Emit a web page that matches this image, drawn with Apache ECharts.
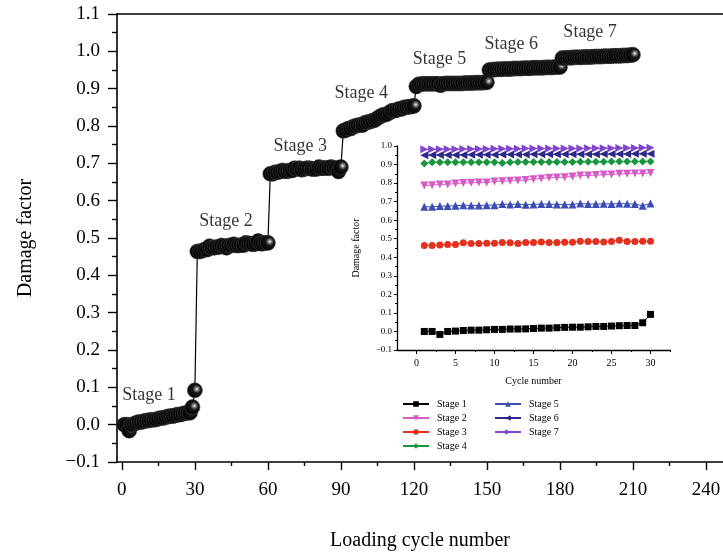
<!DOCTYPE html>
<html>
<head>
<meta charset="utf-8">
<script src="https://cdn.jsdelivr.net/npm/echarts@6/dist/echarts.min.js"></script>
<style>
  html, body { margin: 0; padding: 0; background: #fff; }
  #chart { width: 723px; height: 552px; }
</style>
</head>
<body>
<div id="chart"></div>
<script>
// Damage factor per cycle, 30 cycles in each loading stage
const cycles = Array.from({ length: 30 }, (_, i) => i + 1);

const stage1 = [0.000, 0.000, -0.016, 0.000, 0.002, 0.005, 0.007, 0.007, 0.009, 0.011,
                0.011, 0.013, 0.013, 0.014, 0.016, 0.018, 0.018, 0.020, 0.022, 0.023,
                0.023, 0.025, 0.027, 0.027, 0.029, 0.031, 0.032, 0.032, 0.047, 0.092];
const stage2 = [0.787, 0.789, 0.793, 0.793, 0.798, 0.800, 0.802, 0.803, 0.803, 0.809,
                0.810, 0.812, 0.814, 0.816, 0.821, 0.825, 0.829, 0.830, 0.832, 0.836,
                0.841, 0.841, 0.843, 0.846, 0.846, 0.850, 0.850, 0.852, 0.852, 0.854];
const stage3 = [0.464, 0.464, 0.466, 0.469, 0.469, 0.478, 0.474, 0.474, 0.476, 0.476,
                0.480, 0.478, 0.474, 0.480, 0.480, 0.483, 0.480, 0.480, 0.481, 0.481,
                0.487, 0.485, 0.485, 0.483, 0.485, 0.492, 0.485, 0.485, 0.487, 0.487];
const stage4 = [0.906, 0.912, 0.912, 0.913, 0.913, 0.913, 0.913, 0.913, 0.913, 0.913,
                0.909, 0.913, 0.914, 0.914, 0.914, 0.914, 0.914, 0.914, 0.914, 0.914,
                0.915, 0.915, 0.915, 0.915, 0.916, 0.916, 0.916, 0.916, 0.917, 0.917];
const stage5 = [0.672, 0.672, 0.676, 0.676, 0.678, 0.681, 0.679, 0.679, 0.681, 0.681,
                0.687, 0.685, 0.687, 0.683, 0.685, 0.687, 0.687, 0.685, 0.685, 0.685,
                0.690, 0.687, 0.687, 0.688, 0.687, 0.690, 0.688, 0.687, 0.678, 0.690];
const stage6 = [0.950, 0.951, 0.951, 0.952, 0.952, 0.952, 0.953, 0.953, 0.953, 0.953,
                0.954, 0.954, 0.954, 0.954, 0.955, 0.955, 0.955, 0.955, 0.956, 0.956,
                0.956, 0.956, 0.956, 0.957, 0.957, 0.957, 0.957, 0.958, 0.958, 0.958];
const stage7 = [0.982, 0.982, 0.983, 0.983, 0.983, 0.984, 0.984, 0.984, 0.984, 0.985,
                0.985, 0.985, 0.985, 0.986, 0.986, 0.986, 0.986, 0.987, 0.987, 0.987,
                0.987, 0.988, 0.988, 0.988, 0.988, 0.989, 0.989, 0.989, 0.990, 0.991];

const stageNames = ['Stage 1', 'Stage 2', 'Stage 3', 'Stage 4', 'Stage 5', 'Stage 6', 'Stage 7'];
const stageValues = [stage1, stage2, stage3, stage4, stage5, stage6, stage7];

// Order in which the stages follow each other along the loading history
const loadingOrder = [stage1, stage3, stage5, stage2, stage4, stage6, stage7];

// Tick labels
const mainXTicks = [0, 30, 60, 90, 120, 150, 180, 210, 240];
const mainXMinor = [15, 45, 75, 105, 135, 165, 195, 225];
const insetXTicks = [0, 5, 10, 15, 20, 25, 30];
const insetXMinor = [2.5, 7.5, 12.5, 17.5, 22.5, 27.5, 32.5];

// Where each stage caption sits on the main chart (data coordinates)
const captionAnchors = [[11.1, 0.078], [42.8, 0.544], [73.3, 0.745], [98.4, 0.887],
                        [130.5, 0.978], [160, 1.018], [192.4, 1.05]];

// Build the continuous loading history: stage k occupies cycles 30(k-1)+1 .. 30k
const history = [];
loadingOrder.forEach((vals, k) => {
  vals.forEach((v, i) => history.push([30 * k + cycles[i], v]));
});

const FONT = 'Liberation Serif';
const minusFmt = v => v.toFixed(1).replace('-', '\u2212');

const insetStyles = [
  { color: '#000000', symbol: 'rect', rotate: 0, size: 7 },
  { color: '#d65bc9', symbol: 'triangle', rotate: 180, size: 8 },
  { color: '#e2311f', symbol: 'circle', rotate: 0, size: 7 },
  { color: '#16973c', symbol: 'diamond', rotate: 0, size: 8 },
  { color: '#3d4db5', symbol: 'triangle', rotate: 0, size: 8 },
  { color: '#2c2888', symbol: 'triangle', rotate: 90, size: 8 },
  { color: '#7f45cc', symbol: 'triangle', rotate: -90, size: 8 }
];

const ball = {
  type: 'radial', x: 0.62, y: 0.42, r: 0.62,
  colorStops: [
    { offset: 0, color: '#ffffff' },
    { offset: 0.16, color: '#8a8a8a' },
    { offset: 0.42, color: '#161616' },
    { offset: 1, color: '#000000' }
  ]
};

const insetSeries = stageValues.map((vals, k) => ({
  name: stageNames[k],
  type: 'line',
  xAxisIndex: 3,
  yAxisIndex: 1,
  data: vals.map((v, i) => [cycles[i], v]),
  symbol: insetStyles[k].symbol,
  symbolRotate: insetStyles[k].rotate,
  symbolSize: insetStyles[k].size,
  showAllSymbol: true,
  itemStyle: { color: insetStyles[k].color },
  lineStyle: { color: insetStyles[k].color, width: 1 },
  z: 5,
  animation: false
}));

const chart = echarts.init(document.getElementById('chart'), null, { renderer: 'canvas' });

chart.setOption({
  animation: false,
  backgroundColor: '#fff',
  textStyle: { fontFamily: FONT },
  grid: [
    { left: 117, right: 0, top: 14, bottom: 90, containLabel: false, outerBoundsMode: 'none' },
    { left: 397, right: 53, top: 146, bottom: 202, containLabel: false, outerBoundsMode: 'none' }
  ],
  legend: [
    {
      data: stageNames.slice(0, 4),
      orient: 'vertical', left: 397, top: 394,
      itemWidth: 26, itemHeight: 7, itemGap: 4,
      textStyle: { fontFamily: FONT, fontSize: 10, color: '#000', padding: [0, 0, 0, 3] }
    },
    {
      data: stageNames.slice(4),
      orient: 'vertical', left: 489, top: 394,
      itemWidth: 26, itemHeight: 7, itemGap: 4,
      textStyle: { fontFamily: FONT, fontSize: 10, color: '#000', padding: [0, 0, 0, 3] }
    }
  ],
  xAxis: [
    {
      gridIndex: 0, type: 'value', min: -2, max: 247,
      name: 'Loading cycle number', nameLocation: 'middle', nameGap: 69,
      nameTextStyle: { fontFamily: FONT, fontSize: 20, color: '#000' },
      axisLine: { onZero: false, lineStyle: { color: '#000', width: 1.6 } },
      axisTick: { customValues: mainXTicks, length: 8, lineStyle: { width: 1.4, color: '#000' } },
      axisLabel: { customValues: mainXTicks, margin: 19, fontFamily: FONT, fontSize: 19, color: '#000' },
      splitLine: { show: false }
    },
    {
      gridIndex: 0, type: 'value', min: -2, max: 247, position: 'bottom',
      axisLine: { show: false, onZero: false },
      axisTick: { customValues: mainXMinor, length: 4, lineStyle: { width: 1.4, color: '#000' } },
      axisLabel: { show: false },
      splitLine: { show: false }
    },
    {
      gridIndex: 0, type: 'value', min: -2, max: 247, position: 'top',
      axisLine: { onZero: false, lineStyle: { color: '#000', width: 1.6 } },
      axisTick: { show: false },
      axisLabel: { show: false },
      splitLine: { show: false }
    },
    {
      gridIndex: 1, type: 'value', min: -2.5, max: 32.5,
      name: 'Cycle number', nameLocation: 'middle', nameGap: 26,
      nameTextStyle: { fontFamily: FONT, fontSize: 10, color: '#000' },
      axisLine: { onZero: false, lineStyle: { color: '#000', width: 1.3 } },
      axisTick: { customValues: insetXTicks, length: 4, lineStyle: { width: 1, color: '#000' } },
      axisLabel: { customValues: insetXTicks, margin: 8, fontFamily: FONT, fontSize: 10, color: '#000' },
      splitLine: { show: false }
    },
    {
      gridIndex: 1, type: 'value', min: -2.5, max: 32.5, position: 'bottom',
      axisLine: { show: false, onZero: false },
      axisTick: { customValues: insetXMinor, length: 2, lineStyle: { width: 1, color: '#000' } },
      axisLabel: { show: false },
      splitLine: { show: false }
    }
  ],
  yAxis: [
    {
      gridIndex: 0, type: 'value', min: -0.1, max: 1.1, interval: 0.1,
      name: 'Damage factor', nameLocation: 'middle', nameGap: 81,
      nameTextStyle: { fontFamily: FONT, fontSize: 20, color: '#000' },
      axisLine: { onZero: false, lineStyle: { color: '#000', width: 1.6 } },
      axisTick: { length: 9, lineStyle: { width: 1.4, color: '#000' } },
      minorTick: { show: true, splitNumber: 2, length: 5, lineStyle: { width: 1.4, color: '#000' } },
      axisLabel: { margin: 17, fontFamily: FONT, fontSize: 19, color: '#000', formatter: minusFmt },
      splitLine: { show: false }
    },
    {
      gridIndex: 1, type: 'value', min: -0.1, max: 1.0, interval: 0.1,
      name: 'Damage factor', nameLocation: 'middle', nameGap: 36,
      nameTextStyle: { fontFamily: FONT, fontSize: 10, color: '#000' },
      axisLine: { onZero: false, lineStyle: { color: '#000', width: 1.3 } },
      axisTick: { length: 3, lineStyle: { width: 1, color: '#000' } },
      minorTick: { show: true, splitNumber: 2, length: 2, lineStyle: { width: 1, color: '#000' } },
      axisLabel: { margin: 5, fontFamily: FONT, fontSize: 9, color: '#000', formatter: minusFmt },
      splitLine: { show: false }
    }
  ],
  series: [
    {
      name: 'history',
      type: 'line',
      xAxisIndex: 0, yAxisIndex: 0,
      data: history,
      symbol: 'circle',
      symbolSize: 15,
      showAllSymbol: true,
      itemStyle: { color: ball, borderColor: '#3a3a3a', borderWidth: 0.6 },
      lineStyle: { color: '#000', width: 1.2 },
      z: 3
    },
    {
      name: 'captions',
      type: 'scatter',
      xAxisIndex: 0, yAxisIndex: 0,
      data: captionAnchors.map((p, k) => ({ value: p, name: stageNames[k] })),
      symbolSize: 0,
      silent: true,
      label: {
        show: true, position: 'inside', formatter: '{b}',
        fontFamily: FONT, fontSize: 18, color: '#000'
      },
      z: 6
    },
    ...insetSeries
  ]
});
</script>
</body>
</html>
